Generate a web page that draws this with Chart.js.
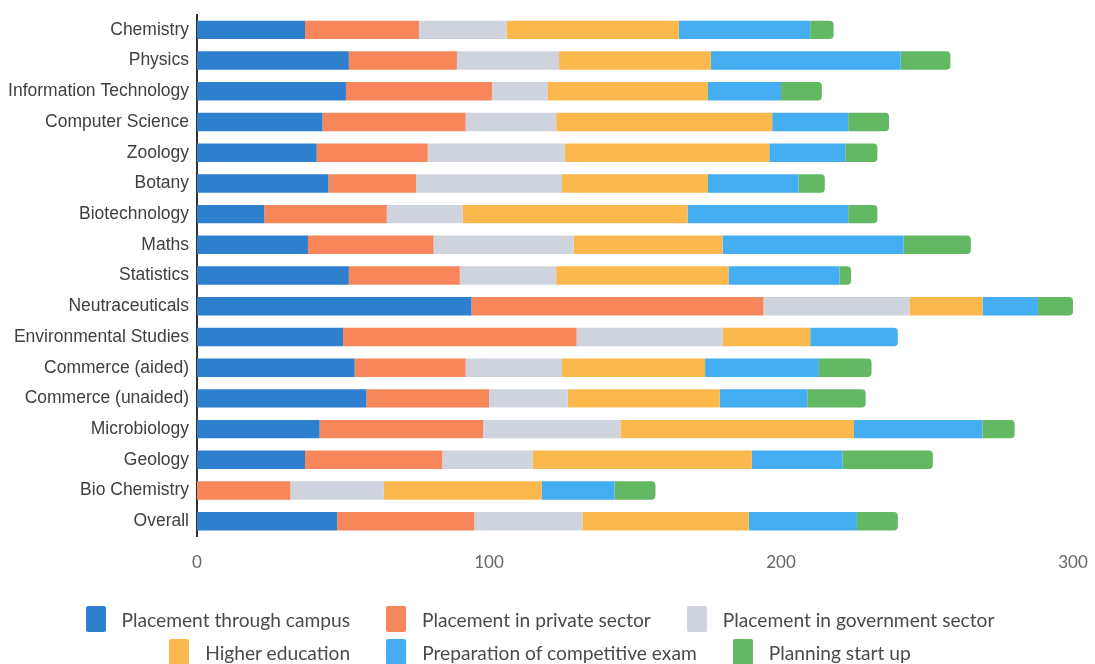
<!DOCTYPE html>
<html>
<head>
<meta charset="utf-8">
<script src="https://cdn.jsdelivr.net/npm/chart.js@4.4.1/dist/chart.umd.min.js"></script>
<style>
  html, body { margin: 0; padding: 0; background: #ffffff; }
  #wrap { position: relative; width: 1095px; height: 664px; }
  #c { position: absolute; left: 0; top: 0; }
  #legend {
    position: absolute; left: 40px; top: 606px; width: 1000px;
    display: flex; flex-wrap: wrap; justify-content: center;
    column-gap: 36px; row-gap: 7px;
    font-family: Lato, "Open Sans", sans-serif; font-size: 19.2px; color: #4a4a4a;
  }
  .item { display: flex; align-items: center; height: 26px; white-space: nowrap; }
  .box { width: 20px; height: 26px; border-radius: 2px; margin-right: 16px; }
</style>
</head>
<body>
<div id="wrap">
  <canvas id="c" width="1095" height="664"></canvas>
  <div id="legend"></div>
</div>
<script>
const categories = [
  "Chemistry", "Physics", "Information Technology", "Computer Science", "Zoology",
  "Botany", "Biotechnology", "Maths", "Statistics", "Neutraceuticals",
  "Environmental Studies", "Commerce (aided)", "Commerce (unaided)", "Microbiology",
  "Geology", "Bio Chemistry", "Overall"
];
const seriesNames = [
  "Placement through campus", "Placement in private sector", "Placement in government sector",
  "Higher education", "Preparation of competitive exam", "Planning start up"
];
const campus      = [37, 52, 51, 43, 41, 45, 23, 38, 52, 94, 50, 54, 58, 42, 37, 0, 48];
const privateSec  = [39, 37, 50, 49, 38, 30, 42, 43, 38, 100, 80, 38, 42, 56, 47, 32, 47];
const government  = [30, 35, 19, 31, 47, 50, 26, 48, 33, 50, 50, 33, 27, 47, 31, 32, 37];
const higherEdu   = [59, 52, 55, 74, 70, 50, 77, 51, 59, 25, 30, 49, 52, 80, 75, 54, 57];
const competitive = [45, 65, 25, 26, 26, 31, 55, 62, 38, 19, 30, 39, 30, 44, 31, 25, 37];
const startUp     = [8, 17, 14, 14, 11, 9, 10, 23, 4, 12, 0, 18, 20, 11, 31, 14, 14];
const xTicks = [0, 100, 200, 300];

const colors = ["#2f7fcf", "#f7875a", "#cfd3de", "#fbb94d", "#45aef2", "#63b864"];
const values = [campus, privateSec, government, higherEdu, competitive, startUp];

const datasets = seriesNames.map((name, i) => ({
  label: name,
  data: values[i],
  backgroundColor: colors[i],
  borderWidth: 0,
  borderRadius: 4,
  borderSkipped: 'start',
  categoryPercentage: 0.8,
  barPercentage: 0.75
}));

const chart = new Chart(document.getElementById('c'), {
  type: 'bar',
  data: { labels: categories, datasets: datasets },
  options: {
    indexAxis: 'y',
    responsive: false,
    animation: false,
    layout: { padding: { left: 0, right: 22, top: 9, bottom: 86 } },
    plugins: {
      legend: { display: false },
      tooltip: { enabled: false }
    },
    scales: {
      x: {
        stacked: true,
        min: 0, max: 300,
        afterBuildTicks: (axis) => { axis.ticks = xTicks.map(v => ({ value: v })); },
        grid: { display: false, drawTicks: true, tickLength: 11 },
        border: { display: false },
        ticks: { padding: 5, color: '#666666', font: { family: 'Lato', size: 17 } }
      },
      y: {
        stacked: true,
        afterFit: (axis) => { axis.width = 197; },
        grid: { display: false, drawTicks: true, tickLength: 4 },
        border: { display: true, color: '#333333', width: 2 },
        ticks: { padding: 4, color: '#404040', font: { family: 'Liberation Sans', size: 17.5 } }
      }
    }
  }
});

const legend = document.getElementById('legend');
chart.data.datasets.forEach(ds => {
  const item = document.createElement('div');
  item.className = 'item';
  const box = document.createElement('span');
  box.className = 'box';
  box.style.background = ds.backgroundColor;
  const txt = document.createElement('span');
  txt.textContent = ds.label;
  item.appendChild(box);
  item.appendChild(txt);
  legend.appendChild(item);
});
</script>
</body>
</html>
